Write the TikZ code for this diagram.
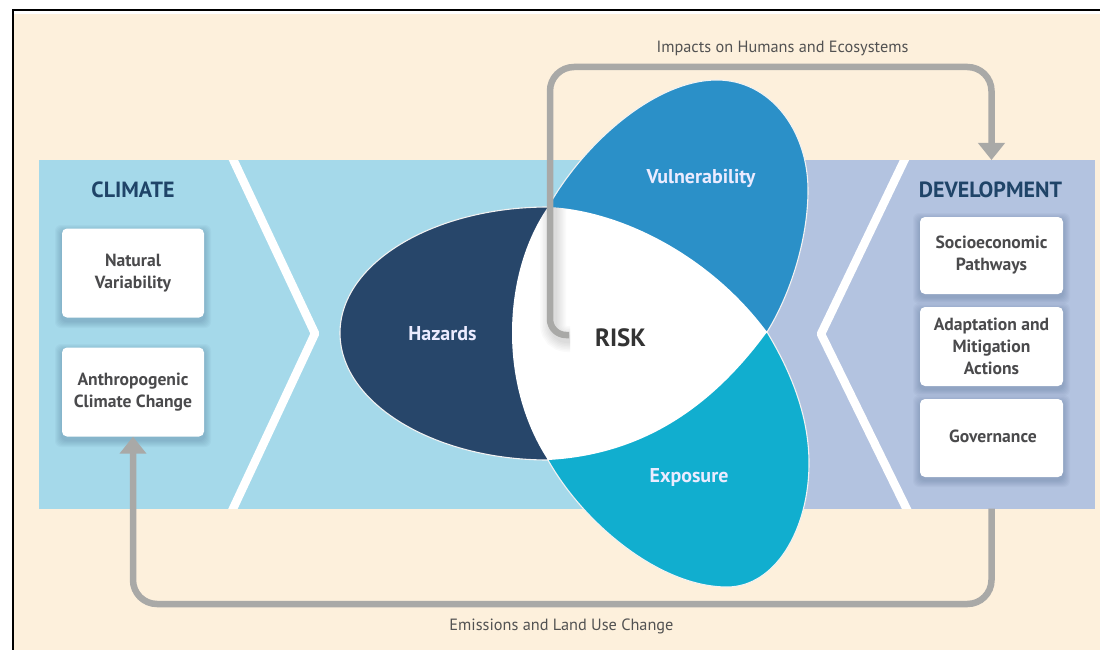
\documentclass[tikz,border=0pt]{standalone}
\usepackage{fontspec}
\setmainfont{PT Sans}
\usetikzlibrary{arrows.meta}
\definecolor{cream}{HTML}{FDF0DC}
\definecolor{climbg}{HTML}{A5D9EA}
\definecolor{devbg}{HTML}{B3C3E0}
\definecolor{hazcol}{HTML}{27466A}
\definecolor{vulcol}{HTML}{2B90C8}
\definecolor{expcol}{HTML}{11AECF}
\definecolor{arrowgray}{HTML}{A9A9A7}
\definecolor{headcol}{HTML}{1F4468}
\definecolor{boxtext}{HTML}{4A4A4C}
\tikzset{
  petal/.style={draw=white!90!gray,line width=1.1pt},
  whitebox/.style={fill=white,rounded corners=5pt,inner sep=0pt,minimum width=142pt,align=center,text=boxtext,font=\fontsize{17.6}{22}\selectfont\bfseries},
  heading/.style={text=headcol,font=\fontsize{22}{24}\selectfont\bfseries,inner sep=0pt},
  petallabel/.style={text=white!92!blue,font=\fontsize{20}{22}\selectfont\bfseries,inner sep=0pt},
  caption/.style={text=black!68,font=\fontsize{16.3}{18}\selectfont,inner sep=0pt},
  flow/.style={draw=arrowgray,line width=6.5pt},
  flowtip/.style={-{Triangle[width=26pt,length=17pt]}},
  chevron/.style={draw=white,line width=8.5pt,line join=round}
}
\newcommand{\softshadow}[4]{%
  \foreach \g in {1,...,7}{
    \fill[hazcol,opacity=0.035,rounded corners=6pt]
      (#1-\g,#2-\g+3) rectangle (#3+\g,#4+\g+3);
  }}
\begin{document}
\begin{tikzpicture}[x=1pt,y=-1pt]
\useasboundingbox (0,0) rectangle (1100,650);
% page
\fill[cream] (14,14) rectangle (1100,650);
\draw[black,line width=1.8pt] (13,650) -- (13,10) -- (1100,10);
% panels
\fill[climbg] (39,160) rectangle (700,508.5);
\fill[devbg] (700,160) rectangle (1095,508.5);
\begin{scope}
  \clip (39,160) rectangle (1095,508.5);
  \draw[chevron] (224,140) -- (315,333.5) -- (224,528);
  \draw[chevron] (914,140) -- (821,334) -- (916,528);
\end{scope}
% petals
\path[fill=hazcol,petal] (548,207) .. controls (434,207) and (340,263) .. (340,333)
   .. controls (340,403) and (434,460) .. (548,460) -- cycle;
\path[fill=vulcol,petal] (548,207) .. controls (584,143) and (655,80) .. (717,80)
   .. controls (770,80) and (808,130) .. (808,190)
   .. controls (808,240) and (790,295) .. (767,332) -- cycle;
\path[fill=expcol,petal] (548,460) .. controls (584,524) and (660,587) .. (727,587)
   .. controls (775,587) and (809,530) .. (809,463)
   .. controls (809,415) and (790,370) .. (767,332) -- cycle;
% centre
\path[fill=white] (548,207) .. controls (620,210) and (710,255) .. (767,332)
   .. controls (710,410) and (640,455) .. (548,460)
   .. controls (525,425) and (512,380) .. (512,333)
   .. controls (512,285) and (525,240) .. (548,207) -- cycle;
% soft shadow of the arrow on the centre
\begin{scope}
  \clip (548,207) .. controls (620,210) and (710,255) .. (767,332)
   .. controls (710,410) and (640,455) .. (548,460)
   .. controls (525,425) and (512,380) .. (512,333)
   .. controls (512,285) and (525,240) .. (548,207) -- cycle;
  \foreach \w in {8,11,...,26}{
    \draw[black,opacity=0.018,line width=\w pt,rounded corners=14pt] (570,339) -- (553,339) -- (553,200);
  }
\end{scope}
% boxes
\softshadow{62}{229}{204}{318}
\softshadow{62}{348}{204}{437}
\softshadow{920}{217}{1063}{294}
\softshadow{920}{307}{1063}{386}
\softshadow{920}{399}{1063}{477}
\node[whitebox,minimum height=89pt] (natural) at (133,273) {Natural\\Variability};
\node[whitebox,minimum height=89pt] (anthro) at (133,392) {Anthropogenic\\Climate Change};
\node[whitebox,minimum width=143pt,minimum height=77pt] (socio) at (991.5,255.5) {Socioeconomic\\Pathways};
\node[whitebox,minimum width=143pt,minimum height=79pt] (adapt) at (991.5,346.5) {Adaptation and\\Mitigation\\Actions};
\node[whitebox,minimum width=143pt,minimum height=78pt] (gov) at (991.5,438) {};
\node[text=boxtext,font=\fontsize{17.6}{22}\selectfont\bfseries,inner sep=0pt] (govtext) at (993,436) {Governance};
% headings and labels
\node[heading] (climate) at (133,189.5) {CLIMATE};
\node[heading] (development) at (990.5,189.5) {DEVELOPMENT};
\node[petallabel] (haz) at (442.5,334) {Hazards};
\node[petallabel] (vul) at (701,178) {Vulnerability};
\node[petallabel] (exp) at (689,477) {Exposure};
\node[text=black!80,font=\fontsize{25}{28}\selectfont\bfseries,inner sep=0pt] (risk) at (620.5,337.5) {RISK};
\node[caption] (impacts) at (782.5,48) {Impacts on Humans and Ecosystems};
\node[caption] (emissions) at (561.5,626) {Emissions and Land Use Change};
% connectors
\coordinate (riskend) at (569,335);
\coordinate (devtop) at (991.5,160);
\coordinate (devbottom) at (991.5,508.5);
\draw[flow,flowtip] (riskend) [rounded corners=16pt] -- (550,335) [rounded corners=24pt] -- (550,67) -- (991.5,67) -- (devtop);
\draw[flow,flowtip,rounded corners=24pt] (devbottom) -- (991.5,604) -- (133,604) -- (anthro.south);
\end{tikzpicture}
\end{document}
